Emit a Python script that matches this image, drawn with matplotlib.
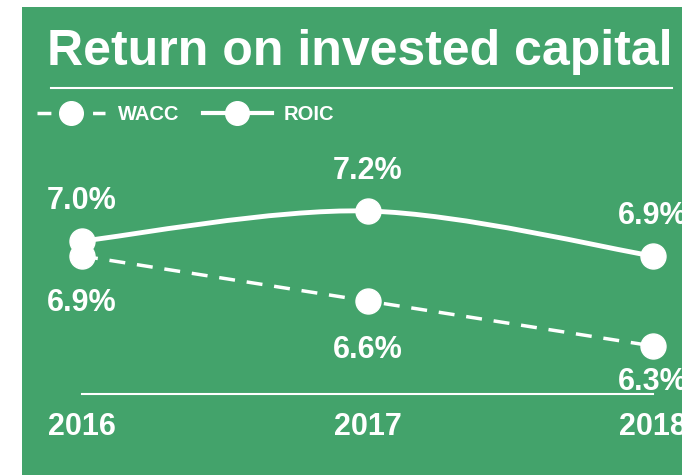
import matplotlib.pyplot as plt
from matplotlib.lines import Line2D
from matplotlib.path import Path
from matplotlib.patches import PathPatch

years = ["2016", "2017", "2018"]
wacc = [6.9, 6.6, 6.3]
roic = [7.0, 7.2, 6.9]
wacc_labels = ["6.9%", "6.6%", "6.3%"]
roic_labels = ["7.0%", "7.2%", "6.9%"]

GREEN = "#43a36b"
WHITE = "white"

plt.rcParams["font.family"] = ["Liberation Sans", "DejaVu Sans"]

fig = plt.figure(figsize=(6.82, 4.75), dpi=100)
ax = fig.add_axes([22 / 682, 0, 660 / 682, 468 / 475])
ax.set_facecolor(GREEN)
for s in ax.spines.values():
    s.set_visible(False)
ax.set_xticks([])
ax.set_yticks([])
ax.set_xlim(-0.2102, 2.1016)
ax.set_ylim(5.44, 8.56)

x = list(range(len(years)))

# smooth ROIC line (catmull-rom -> bezier)
verts = [(x[0], roic[0])]
codes = [Path.MOVETO]
n = len(x)
for i in range(n - 1):
    p0 = (x[max(i - 1, 0)], roic[max(i - 1, 0)])
    p1 = (x[i], roic[i])
    p2 = (x[i + 1], roic[i + 1])
    p3 = (x[min(i + 2, n - 1)], roic[min(i + 2, n - 1)])
    c1 = (p1[0] + (p2[0] - p0[0]) / 6, p1[1] + (p2[1] - p0[1]) / 6)
    c2 = (p2[0] - (p3[0] - p1[0]) / 6, p2[1] - (p3[1] - p1[1]) / 6)
    verts += [c1, c2, p2]
    codes += [Path.CURVE4] * 3
ax.add_patch(PathPatch(Path(verts, codes), fill=False, edgecolor=WHITE, lw=3.5, zorder=2))
ax.plot(x, roic, ls="none", marker="o", ms=18, color=WHITE, zorder=3)

ax.plot(x, wacc, color=WHITE, lw=2.5, dashes=(4.6, 3.4), marker="o", ms=18, zorder=3)

lbl = dict(ha="center", va="center", color=WHITE, fontsize=22, fontweight="bold",
           textcoords="offset points", annotation_clip=False)
for i in x:
    ax.annotate(roic_labels[i], (i, roic[i]), xytext=(0, 29), **lbl)
wacc_off = [-34, -35, -26]
for i in x:
    ax.annotate(wacc_labels[i], (i, wacc[i]), xytext=(0, wacc_off[i]), **lbl)

# baseline and category labels
ax.plot([x[0], x[-1]], [5.98, 5.98], color=WHITE, lw=1.5)
for i in x:
    ax.text(i, 5.76, years[i], ha="center", va="center", color=WHITE,
            fontsize=22, fontweight="bold")

# title and rule
fig.text(47 / 682, 1 - 52 / 475, "Return on invested capital", ha="left", va="center",
         color=WHITE, fontsize=36, fontweight="bold")
fig.add_artist(Line2D([51 / 682, 672 / 682], [1 - 88 / 475, 1 - 88 / 475], color=WHITE, lw=1.5))

handles = [Line2D([], [], color=WHITE, lw=2.5, dashes=(4, 4), marker="o", ms=17),
           Line2D([], [], color=WHITE, lw=3, marker="o", ms=17)]
fig.legend(handles, ["WACC", "ROIC"], loc="center left", bbox_to_anchor=(37 / 682, 1 - 115 / 475),
           ncol=2, frameon=False, handlelength=3.4, handletextpad=0.6, columnspacing=1.2,
           prop={"weight": "bold", "size": 14.5}, labelcolor=WHITE, borderaxespad=0, borderpad=0)

fig.savefig("out.png", dpi=100)
